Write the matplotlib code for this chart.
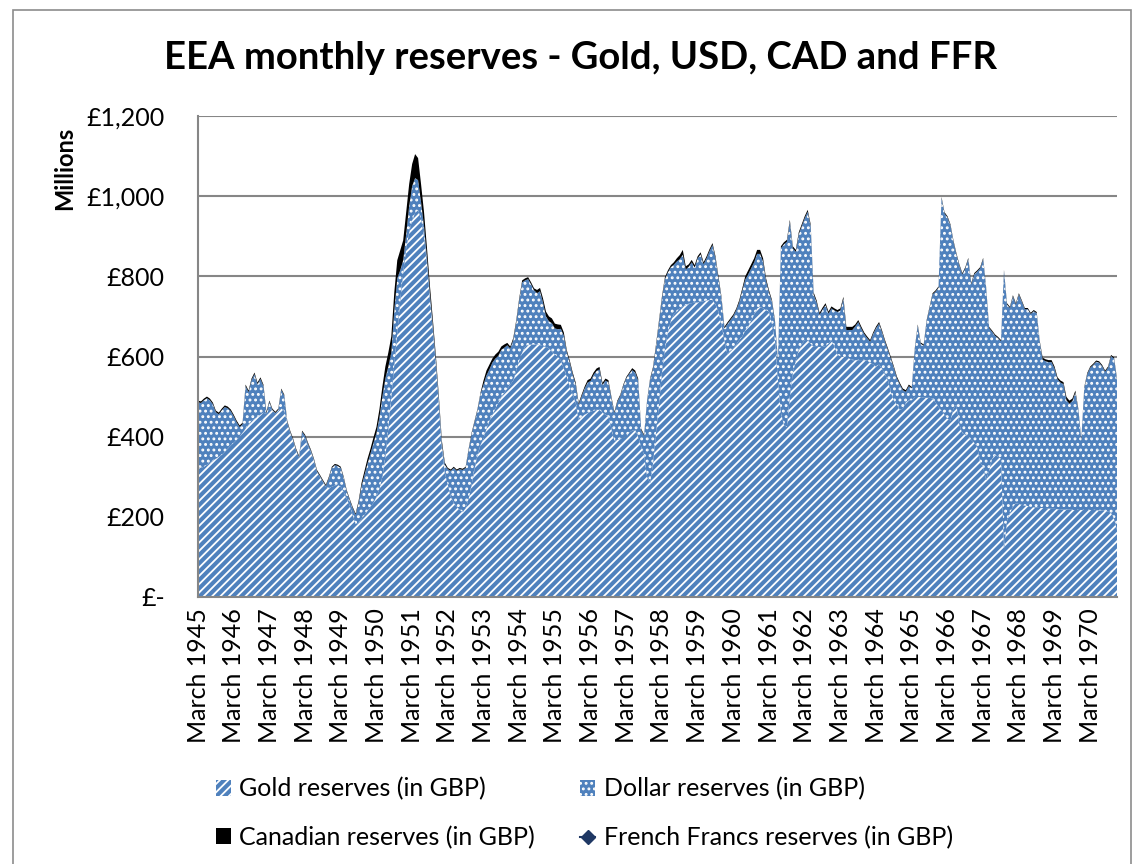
import matplotlib.pyplot as plt
from matplotlib.patches import Rectangle
import numpy as np

# Monthly values, March 1945 .. December 1970 (GBP millions), one row per year from March
gold_reserves = [
    325, 322, 325, 330, 335, 340, 345, 350, 355, 362, 370, 378,
    385, 392, 400, 410, 420, 430, 440, 445, 450, 455, 460, 456,
    470, 465, 458, 465, 470, 465, 435, 410, 390, 365, 347, 405,
    395, 375, 360, 340, 312, 300, 287, 275, 272, 275, 278, 280,
    275, 262, 245, 228, 205, 182, 185, 195, 205, 215, 225, 235,
    250, 270, 300, 350, 420, 500, 580, 660, 740, 810, 870, 910,
    940, 958, 965, 945, 900, 830, 743, 665, 578, 480, 370, 310,
    280, 250, 235, 225, 218, 212, 222, 245, 280, 320, 355, 380,
    395, 420, 440, 455, 470, 485, 500, 510, 520, 530, 540, 565,
    590, 610, 625, 629, 630, 630, 630, 628, 626, 624, 620, 612,
    605, 600, 590, 570, 550, 525, 505, 484, 442, 450, 455, 459,
    462, 465, 467, 467, 460, 455, 449, 420, 390, 392, 395, 398,
    400, 410, 415, 417, 400, 375, 355, 300, 284, 334, 410, 480,
    560, 620, 660, 690, 705, 712, 720, 725, 728, 732, 733, 735,
    735, 737, 738, 740, 741, 741, 730, 712, 680, 640, 605, 615,
    620, 630, 641, 650, 665, 675, 690, 705, 720, 724, 720, 716,
    712, 680, 640, 540, 460, 430, 424, 500, 559, 590, 616, 630,
    641, 641, 632, 624, 624, 624, 624, 626, 632, 641, 625, 605,
    600, 599, 599, 595, 591, 591, 591, 591, 591, 590, 585, 580,
    575, 580, 570, 555, 540, 510, 490, 480, 467, 470, 485, 491,
    491, 499, 499, 499, 497, 497, 497, 495, 485, 474, 465, 455,
    445, 440, 470, 480, 430, 409, 405, 400, 392, 385, 374, 335,
    324, 292, 315, 345, 355, 350, 345, 120, 190, 210, 225, 234,
    232, 230, 228, 227, 225, 224, 223, 222, 222, 222, 221, 220,
    220, 219, 219, 218, 218, 218, 217, 217, 217, 217, 217, 217,
    217, 217, 217, 216, 216, 215, 213, 210, 195, 167,
]

dollar_reserves = [
    161, 162, 166, 166, 156, 141, 116, 106, 111, 112, 101, 86,
    66, 44, 24, 21, 106, 81, 101, 111, 81, 89, 66, 2,
    17, 2, 1, 2, 47, 37, 2, 2, 2, 2, 2, 7,
    7, 7, 4, 2, 2, 2, 2, 2, 25, 47, 51, 47,
    47, 35, 19, 14, 17, 23, 50, 82, 100, 118, 133, 149,
    159, 178, 200, 195, 155, 110, 135, 135, 75, 30, 35, 65,
    85, 87, 75, 40, 25, 15, 12, 10, 10, 10, 12, 20,
    39, 65, 87, 90, 101, 105, 100, 122, 127, 117, 112, 127,
    135, 133, 128, 130, 125, 117, 117, 112, 108, 90, 101, 120,
    150, 175, 165, 164, 150, 135, 128, 135, 109, 76, 68, 71,
    65, 68, 79, 82, 61, 60, 50, 46, 38, 51, 65, 76,
    77, 89, 97, 101, 69, 85, 87, 76, 69, 95, 107, 129,
    146, 147, 151, 143, 140, 42, 47, 188, 258, 236, 215, 205,
    185, 173, 150, 133, 124, 125, 123, 129, 89, 92, 102, 87,
    110, 118, 92, 105, 122, 137, 115, 83, 66, 30, 76, 76,
    81, 86, 95, 114, 127, 130, 130, 130, 136, 132, 117, 73,
    48, 57, 46, 47, 410, 450, 462, 436, 311, 271, 289, 295,
    304, 320, 293, 131, 111, 80, 93, 102, 75, 79, 90, 106,
    115, 145, 67, 71, 75, 84, 95, 79, 65, 56, 52, 76,
    96, 102, 91, 82, 76, 84, 81, 66, 63, 46, 27, 35,
    30, 118, 178, 133, 130, 191, 225, 260, 277, 298, 530, 502,
    502, 487, 417, 375, 397, 396, 415, 443, 388, 420, 438, 485,
    519, 478, 356, 317, 297, 296, 293, 693, 540, 511, 525, 496,
    523, 507, 490, 491, 481, 489, 485, 415, 370, 366, 365, 366,
    350, 324, 316, 313, 273, 264, 272, 293, 250, 172, 304, 339,
    355, 362, 370, 369, 360, 347, 359, 391, 400, 375,
]

canadian_reserves = [
    4, 4, 4, 4, 4, 4, 4, 4, 4, 4, 4, 4,
    4, 4, 4, 4, 4, 4, 4, 4, 4, 4, 4, 4,
    3, 3, 3, 3, 3, 3, 3, 3, 3, 3, 3, 3,
    3, 3, 3, 3, 3, 3, 3, 3, 3, 3, 3, 3,
    3, 3, 3, 3, 3, 3, 5, 8, 10, 12, 12, 14,
    15, 20, 25, 30, 35, 40, 45, 45, 50, 50, 55, 55,
    55, 60, 55, 45, 35, 25, 20, 15, 12, 10, 8, 5,
    3, 3, 3, 3, 3, 3, 3, 3, 3, 3, 3, 3,
    10, 12, 12, 10, 10, 10, 8, 8, 6, 5, 5, 5,
    5, 5, 5, 5, 5, 5, 8, 8, 10, 12, 12, 12,
    12, 12, 10, 8, 5, 5, 5, 5, 4, 4, 5, 6,
    6, 6, 6, 6, 5, 5, 5, 4, 3, 3, 3, 3,
    3, 3, 5, 5, 5, 3, 3, 3, 3, 4, 5, 5,
    5, 5, 5, 5, 6, 8, 10, 12, 8, 6, 6, 6,
    5, 5, 5, 5, 5, 5, 5, 5, 4, 4, 4, 4,
    4, 4, 5, 6, 8, 10, 10, 10, 10, 10, 8, 6,
    5, 4, 4, 3, 5, 5, 5, 5, 5, 5, 5, 5,
    5, 5, 5, 5, 5, 5, 5, 5, 5, 5, 5, 5,
    5, 5, 8, 8, 8, 5, 5, 5, 4, 4, 4, 4,
    4, 4, 4, 4, 4, 4, 4, 4, 4, 4, 4, 4,
    3, 3, 3, 3, 3, 3, 3, 3, 3, 3, 3, 3,
    3, 3, 3, 3, 3, 3, 3, 3, 3, 3, 3, 3,
    3, 3, 3, 3, 3, 3, 3, 3, 3, 3, 3, 3,
    3, 3, 3, 3, 3, 3, 3, 3, 5, 5, 5, 5,
    5, 5, 5, 5, 8, 8, 6, 5, 3, 3, 3, 3,
    3, 3, 3, 3, 3, 3, 3, 3, 3, 3,
]

# the French Francs series has no visible values in the source chart
ffr_reserves = []

tick_labels = [
    "March 1945", "March 1946", "March 1947", "March 1948", "March 1949",
    "March 1950", "March 1951", "March 1952", "March 1953", "March 1954",
    "March 1955", "March 1956", "March 1957", "March 1958", "March 1959",
    "March 1960", "March 1961", "March 1962", "March 1963", "March 1964",
    "March 1965", "March 1966", "March 1967", "March 1968", "March 1969",
    "March 1970",
]
y_ticks = [0, 200, 400, 600, 800, 1000, 1200]
y_tick_labels = ["£-", "£200", "£400", "£600", "£800", "£1,000", "£1,200"]

plt.rcParams["font.family"] = ["Lato", "DejaVu Sans"]
plt.rcParams["hatch.linewidth"] = 1.3

W, H = 1137, 864
blue = "#4F81BD"
grey = "#868686"

fig = plt.figure(figsize=(W / 100, H / 100), dpi=100)
ax = fig.add_axes([198 / W, 1 - 597 / H, (1117 - 198) / W, (597 - 116) / H])

months = np.arange(len(gold_reserves))
polys = ax.stackplot(
    months, gold_reserves, dollar_reserves, canadian_reserves,
    colors=[blue, blue, "black"], linewidth=0,
    labels=["Gold reserves (in GBP)", "Dollar reserves (in GBP)", "Canadian reserves (in GBP)"],
)
polys[0].set_edgecolor("white")
polys[0].set_hatch("////")
polys[0].set_linewidth(0)
polys[1].set_edgecolor("white")
polys[1].set_hatch("...")
polys[1].set_linewidth(0)

ffr_line, = ax.plot(np.arange(len(ffr_reserves)), ffr_reserves, color="#1F3864",
                    marker="D", markersize=7, linewidth=1.5,
                    label="French Francs reserves (in GBP)")

ax.set_xlim(0, len(gold_reserves) - 1)
ax.set_ylim(0, 1200)
ax.set_yticks(y_ticks)
ax.set_yticklabels(y_tick_labels)
ax.set_xticks(np.arange(0, len(gold_reserves), 12))
ax.set_xticklabels(tick_labels, rotation=90, va="top", ha="center")
ax.tick_params(axis="both", length=0, labelsize=18)
ax.tick_params(axis="y", pad=24)
ax.tick_params(axis="x", pad=8)

ax.set_axisbelow(True)
ax.yaxis.grid(True, color=grey, linewidth=1.5)
for side in ["top", "right"]:
    ax.spines[side].set_visible(False)
for side in ["left", "bottom"]:
    ax.spines[side].set_color(grey)
    ax.spines[side].set_linewidth(1.5)

fig.text(581 / W, 1 - 58 / H, "EEA monthly reserves - Gold, USD, CAD and FFR",
         ha="center", va="center", fontsize=27.5, fontweight="bold")
fig.text(65 / W, 1 - 168 / H, "Millions", rotation=90, ha="center", va="center",
         fontsize=17, fontweight="bold")

handles, labels = ax.get_legend_handles_labels()
order = [0, 2, 1, 3]
fig.legend([handles[i] for i in order], [labels[i] for i in order],
           ncol=2, loc="upper left", bbox_to_anchor=(203 / W, 1 - 765 / H),
           frameon=False, fontsize=18, borderpad=0, handlelength=0.6,
           handleheight=0.6, handletextpad=0.35, columnspacing=1.8,
           labelspacing=1.0)

fig.add_artist(Rectangle((13 / W, -0.05), (1131 - 13) / W, 1.05 - 10 / H,
                         transform=fig.transFigure, fill=False,
                         edgecolor="#8c8c8c", linewidth=1.2))

fig.savefig("out.png", dpi=100)
